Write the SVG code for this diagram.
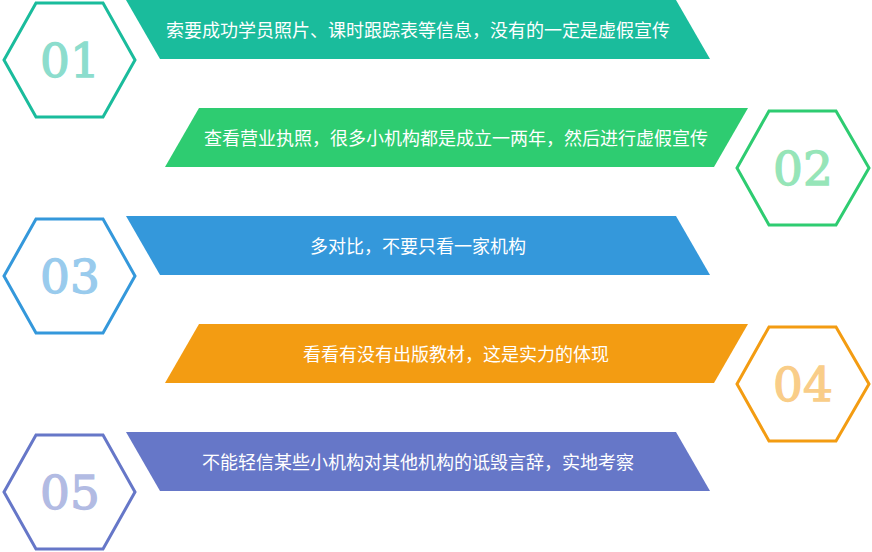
<svg xmlns="http://www.w3.org/2000/svg" width="872" height="552" viewBox="0 0 872 552">
<style>
.lbl{font-family:"Noto Sans CJK SC","Liberation Sans",sans-serif;font-size:18px;fill:#ffffff;text-anchor:middle}
.num{font-family:"DejaVu Serif","Liberation Serif",serif;font-size:47px;text-anchor:middle;stroke-width:1.3px}
.hex{fill:#ffffff;stroke-width:3}
.c1 .ban{fill:#1abc9c}.c1 .hex{stroke:#1abc9c}.c1 .num{fill:#8cddcd;stroke:#8cddcd}
.c2 .ban{fill:#2ecc71}.c2 .hex{stroke:#2ecc71}.c2 .num{fill:#96e5b8;stroke:#96e5b8}
.c3 .ban{fill:#3498db}.c3 .hex{stroke:#3498db}.c3 .num{fill:#99cbed;stroke:#99cbed}
.c4 .ban{fill:#f39c12}.c4 .hex{stroke:#f39c12}.c4 .num{fill:#f9cd88;stroke:#f9cd88}
.c5 .ban{fill:#6677c8}.c5 .hex{stroke:#6677c8}.c5 .num{fill:#b2bbe3;stroke:#b2bbe3}
</style>
<rect width="872" height="552" fill="#ffffff"/>
<g id="item1" class="c1">
<polygon class="ban" points="126,0 676,0 710,59 160,59"/>
<text class="lbl" x="418" y="37">索要成功学员照片、课时跟踪表等信息，没有的一定是虚假宣传</text>
<polygon class="hex" points="4,60 36,3 103,3 135,60 103,117 36,117"/>
<text class="num" x="70" y="77">01</text>
</g>
<g id="item2" class="c2">
<polygon class="ban" points="199,108 748,108 714,167 165,167"/>
<text class="lbl" x="456" y="145">查看营业执照，很多小机构都是成立一两年，然后进行虚假宣传</text>
<polygon class="hex" points="737,168 769,111 836,111 869,168 836,225 769,225"/>
<text class="num" x="803" y="185">02</text>
</g>
<g id="item3" class="c3">
<polygon class="ban" points="126,216 676,216 710,275 160,275"/>
<text class="lbl" x="418" y="253">多对比，不要只看一家机构</text>
<polygon class="hex" points="4,276 36,219 103,219 135,276 103,333 36,333"/>
<text class="num" x="70" y="293">03</text>
</g>
<g id="item4" class="c4">
<polygon class="ban" points="199,324 748,324 714,383 165,383"/>
<text class="lbl" x="456" y="361">看看有没有出版教材，这是实力的体现</text>
<polygon class="hex" points="737,384 769,327 836,327 869,384 836,441 769,441"/>
<text class="num" x="803" y="401">04</text>
</g>
<g id="item5" class="c5">
<polygon class="ban" points="126,432 676,432 710,491 160,491"/>
<text class="lbl" x="418" y="469">不能轻信某些小机构对其他机构的诋毁言辞，实地考察</text>
<polygon class="hex" points="4,492 36,435 103,435 135,492 103,549 36,549"/>
<text class="num" x="70" y="509">05</text>
</g>
<g id="connectors"></g>
</svg>
